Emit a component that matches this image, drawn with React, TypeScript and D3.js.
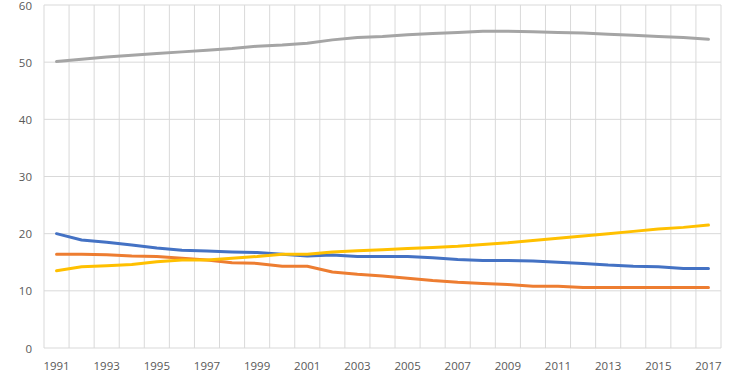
import React from "react";
import * as d3 from "d3";

const years: string[] = [
  "1991","1992","1993","1994","1995","1996","1997","1998","1999","2000",
  "2001","2002","2003","2004","2005","2006","2007","2008","2009","2010",
  "2011","2012","2013","2014","2015","2016","2017",
];

const blueSeries: number[] = [
  20.0, 18.9, 18.5, 18.0, 17.5, 17.1, 16.95, 16.8, 16.7, 16.4,
  16.1, 16.25, 16.0, 16.0, 16.0, 15.8, 15.5, 15.3, 15.3, 15.2,
  15.0, 14.8, 14.5, 14.3, 14.2, 13.9, 13.9,
];

const orangeSeries: number[] = [
  16.4, 16.4, 16.3, 16.1, 16.0, 15.7, 15.4, 14.9, 14.8, 14.3,
  14.3, 13.3, 12.9, 12.6, 12.2, 11.8, 11.5, 11.3, 11.1, 10.8,
  10.8, 10.6, 10.6, 10.6, 10.6, 10.6, 10.6,
];

const graySeries: number[] = [
  50.1, 50.5, 50.9, 51.2, 51.5, 51.8, 52.1, 52.4, 52.8, 53.0,
  53.3, 53.9, 54.3, 54.5, 54.8, 55.0, 55.2, 55.4, 55.4, 55.3,
  55.2, 55.1, 54.9, 54.7, 54.5, 54.3, 54.0,
];

const yellowSeries: number[] = [
  13.5, 14.2, 14.4, 14.6, 15.1, 15.4, 15.4, 15.7, 16.0, 16.4,
  16.4, 16.8, 17.0, 17.2, 17.4, 17.6, 17.8, 18.1, 18.4, 18.8,
  19.2, 19.6, 20.0, 20.4, 20.8, 21.1, 21.5,
];

const yTicks: number[] = [0, 10, 20, 30, 40, 50, 60];
const xTickLabels: string[] = years.filter((_, i) => i % 2 === 0);

const W = 740;
const H = 389;
const left = 44;
const right = 721;
const top = 5;
const bottom = 348;

export default function App() {
  const x = d3.scaleBand<string>().domain(years).range([left, right]).paddingInner(0).paddingOuter(0);
  const y = d3.scaleLinear().domain([0, 60]).range([bottom, top]);
  const cx = (yr: string) => (x(yr) as number) + x.bandwidth() / 2;

  const line = d3
    .line<number>()
    .x((_, i) => cx(years[i]))
    .y((d) => y(d));

  const series = [
    { values: graySeries, color: "#A5A5A5" },
    { values: blueSeries, color: "#4472C4" },
    { values: orangeSeries, color: "#ED7D31" },
    { values: yellowSeries, color: "#FFC000" },
  ];

  const boundaries = years.map((yr) => x(yr) as number).concat([right]);
  const font = "'Open Sans', 'Liberation Sans', sans-serif";

  return (
    <svg
      width={W}
      height={H}
      style={{ position: "absolute", left: 0, top: 0, background: "#fff" }}
    >
      <rect x={0} y={0} width={W} height={H} fill="#ffffff" />
      {boundaries.map((bx, i) => (
        <line key={"v" + i} x1={bx} x2={bx} y1={top} y2={bottom} stroke="#D9D9D9" strokeWidth={1} />
      ))}
      {yTicks.map((t) => (
        <line key={"h" + t} x1={left} x2={right} y1={y(t)} y2={y(t)} stroke="#D9D9D9" strokeWidth={1} />
      ))}
      {yTicks.map((t) => (
        <text
          key={"yl" + t}
          x={32}
          y={y(t)}
          textAnchor="end"
          dominantBaseline="central"
          fontFamily={font}
          fontSize={11.5}
          fill="#595959"
        >
          {t}
        </text>
      ))}
      {xTickLabels.map((yr) => (
        <text
          key={"xl" + yr}
          x={cx(yr)}
          y={365}
          textAnchor="middle"
          dominantBaseline="central"
          fontFamily={font}
          fontSize={11.5}
          fill="#595959"
        >
          {yr}
        </text>
      ))}
      {series.map((s, i) => (
        <path
          key={"s" + i}
          d={line(s.values) || ""}
          fill="none"
          stroke={s.color}
          strokeWidth={3}
          strokeLinejoin="round"
          strokeLinecap="round"
        />
      ))}
    </svg>
  );
}
